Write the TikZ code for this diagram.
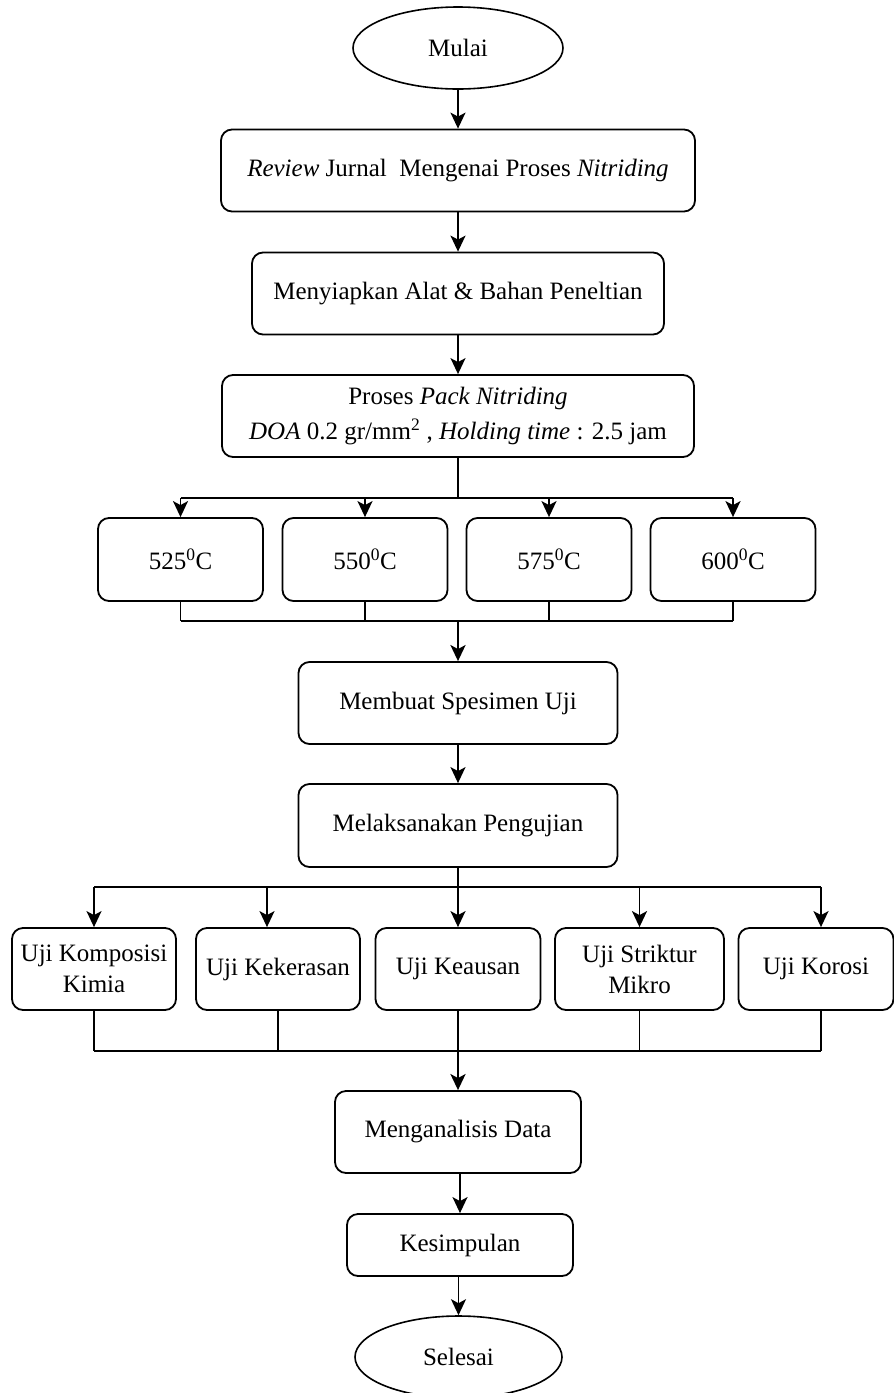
\documentclass[tikz,border=0pt]{standalone}
\usepackage{fontspec}
\setmainfont{Liberation Serif}
\usetikzlibrary{shapes.geometric,arrows.meta}

\begin{document}
\begin{tikzpicture}[x=1pt,y=-1pt,
    box/.style={draw,line width=1.8pt,rounded corners=11pt,align=center,
        inner sep=2pt,minimum height=82pt,font=\fontsize{25}{31}\selectfont},
    term/.style={draw,ellipse,line width=1.6pt,inner sep=0pt,
        minimum height=82pt,font=\fontsize{25}{30}\selectfont},
    line/.style={line width=1.8pt},
    trunk/.style={line width=2.8pt},
    arrow/.style={line width=1.8pt,-{Stealth[length=16pt,width=15pt,inset=4pt]}}]
    \useasboundingbox (0,0) rectangle (894,1393);

    % start and first steps
    \node[term,minimum width=210pt] (mulai) at (458,48) {Mulai};
    \node[box,minimum width=474pt] (review) at (458,170.5)
        {\textit{Review} Jurnal~ Mengenai Proses \textit{Nitriding}};
    \node[box,minimum width=412pt] (siap) at (458,293.5)
        {Menyiapkan Alat \& Bahan Peneltian};
    \node[box,minimum width=472pt,font=\fontsize{25}{35}\selectfont] (proses) at (458,416)
        {Proses \textit{Pack Nitriding}\\
         \textit{DOA} 0.2 gr/mm\textsuperscript{2} , \textit{Holding time} : 2.5 jam};

    \draw[arrow] (mulai) -- (review);
    \draw[arrow] (review) -- (siap);
    \draw[arrow] (siap) -- (proses);

    % temperatures
    \node[box,minimum width=165pt,minimum height=83pt] (t525) at (180.5,559.5) {525\textsuperscript{0}C};
    \node[box,minimum width=165pt,minimum height=83pt] (t550) at (365,559.5) {550\textsuperscript{0}C};
    \node[box,minimum width=165pt,minimum height=83pt] (t575) at (549,559.5) {575\textsuperscript{0}C};
    \node[box,minimum width=165pt,minimum height=83pt] (t600) at (733,559.5) {600\textsuperscript{0}C};

    \coordinate (busA) at (458,498);
    \coordinate (busB) at (458,621);
    \draw[trunk] (proses.south) -- (busA);
    \draw[line] (t525.north |- busA) -- (t600.north |- busA);
    \draw[line] (t525.south |- busB) -- (t600.south |- busB);
    \foreach \t in {t525,t550,t575,t600} {
        \draw[arrow] (\t.north |- busA) -- (\t.north);
        \draw[line] (\t.south) -- (\t.south |- busB);
    }

    % specimen and testing
    \node[box,minimum width=319pt] (buat) at (458,703) {Membuat Spesimen Uji};
    \node[box,minimum width=319pt,minimum height=83pt] (laksana) at (458,825.5) {Melaksanakan Pengujian};

    \draw[arrow,trunk] (busB) -- (buat);
    \draw[arrow] (buat) -- (laksana);

    % tests
    \node[box,minimum width=164pt] (komposisi) at (94,969) {Uji Komposisi\\Kimia};
    \node[box,minimum width=164pt] (kekerasan) at (278,969) {Uji Kekerasan};
    \node[box,minimum width=165pt] (keausan) at (458,969) {Uji Keausan};
    \node[box,minimum width=169pt] (mikro) at (639.5,969) {Uji Striktur\\Mikro};
    \node[box,minimum width=155pt] (korosi) at (816,969) {Uji Korosi};

    \coordinate (busC) at (458,887);
    \coordinate (busD) at (458,1051);
    \draw[trunk] (laksana.south) -- (busC);
    \draw[line] (94,887) -- (821,887);
    \draw[line] (94,1051) -- (821,1051);
    \draw[arrow] (komposisi.north |- busC) -- (komposisi.north);
    \draw[arrow] ([xshift=-11pt]kekerasan.north |- busC) -- ([xshift=-11pt]kekerasan.north);
    \draw[arrow] (keausan.north |- busC) -- (keausan.north);
    \draw[arrow] (mikro.north |- busC) -- (mikro.north);
    \draw[arrow] ([xshift=5pt]korosi.north |- busC) -- ([xshift=5pt]korosi.north);
    \foreach \u in {komposisi,kekerasan,keausan,mikro} {
        \draw[line] (\u.south) -- (\u.south |- busD);
    }
    \draw[line] ([xshift=5pt]korosi.south) -- ([xshift=5pt]korosi.south |- busD);

    % analysis and end
    \node[box,minimum width=246pt] (analisis) at (458,1132) {Menganalisis Data};
    \node[box,minimum width=226pt,minimum height=62pt] (simpul) at (460,1245) {Kesimpulan};
    \node[term,minimum width=207pt] (selesai) at (458.5,1357) {Selesai};

    \draw[arrow,trunk] (busD) -- (analisis);
    \draw[arrow] (analisis.south -| simpul) -- (simpul);
    \draw[arrow] (simpul.south -| selesai) -- (selesai);
\end{tikzpicture}
\end{document}
